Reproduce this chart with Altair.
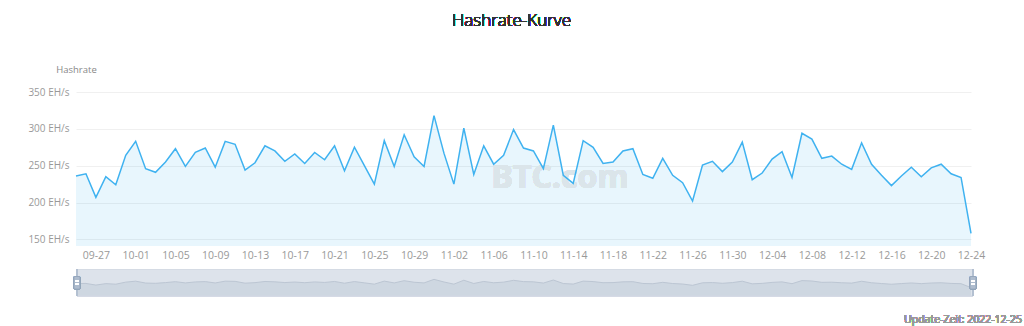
import altair as alt
import pandas as pd

# ---- data ----
dates = [d.strftime("%Y-%m-%d") for d in pd.date_range("2022-09-25", "2022-12-24", freq="D")]
hashrate = [
    236, 239, 207, 235, 224, 264,
    283, 246, 241, 255, 273, 249, 268, 274, 248, 283, 279, 244, 254, 277, 270, 256,
    266, 253, 268, 258, 277, 243, 275, 250, 225, 284, 249, 292, 262, 249, 318,
    267, 225, 301, 238, 277, 252, 264, 299, 274, 270, 246, 305, 237, 226, 284, 275,
    253, 255, 270, 273, 238, 233, 260, 237, 227, 202, 251, 256, 242, 255,
    282, 231, 240, 259, 269, 234, 294, 286, 260, 263, 252, 245, 281, 252, 237, 223,
    236, 248, 235, 247, 252, 239, 234, 158,
]
y_ticks = [150, 200, 250, 300, 350]
tick_dates = dates[2::4]
title_text = "Hashrate-Kurve"
y_name = "Hashrate"
footer_text = "Update-Zeit: 2022-12-25"
watermark = "BTC.com"

df = pd.DataFrame({"date": dates, "v": hashrate})

W, H = 895, 154
FONT = "Open Sans"
LINE = "#3fb2f0"


def dt(s):
    y, m, d = (int(p) for p in s.split("-"))
    return alt.DateTime(year=y, month=m, date=d, utc=True)


xscale = alt.Scale(type="utc", domain=[dt(dates[0]), dt(dates[-1])])
xaxis = alt.Axis(
    values=[dt(s) for s in tick_dates], format="%m-%d", title=None,
    domain=False, ticks=False, grid=False, labelColor="#999999",
    labelFont=FONT, labelFontSize=10.5, labelPadding=4, labelOverlap=False,
    labelFlush=False,
)
xenc = alt.X("date:T", scale=xscale, axis=xaxis)
yscale = alt.Scale(domain=[141, 350], nice=False, zero=False)
yenc = alt.Y(
    "v:Q",
    scale=yscale,
    axis=alt.Axis(
        values=y_ticks, labelExpr="datum.value + ' EH/s'", domain=False, ticks=False,
        gridColor="#f0f0f0", labelColor="#999999", labelFont=FONT, labelFontSize=10,
        labelPadding=7, title=y_name, titleAngle=0, titleX=0, titleY=-23,
        titleAlign="center", titleBaseline="middle", titleFont=FONT, titleFontSize=9.5,
        titleFontWeight="normal", titleColor="#888888",
    ),
)

base = alt.Chart(df)
area = base.mark_area(color=LINE, opacity=0.12).encode(x=xenc, y=yenc, y2=alt.datum(141))
wm = alt.Chart(df).mark_text(
    text=watermark, font=FONT, fontSize=32, fontWeight="bold", color="#dbe5ea"
).encode(x=alt.value(484), y=alt.value(86))
line = base.mark_line(color=LINE, strokeWidth=1.5).encode(x=xenc, y=yenc)
main = alt.layer(area, wm, line)

# slider (data zoom look-alike)
slider_bg = alt.Chart(df).mark_rect(fill="#dde3eb", stroke="#d5dbe4", strokeWidth=1).encode(
    x=alt.value(1), x2=alt.value(897), y=alt.value(177.5), y2=alt.value(203.7)
)
syenc = alt.Y("v:Q", scale=alt.Scale(domain=[0, 510], range=[203.7, 177.5], nice=False), axis=None)
slider_area = base.mark_area(color="#cbd3de", opacity=0.8).encode(x=xenc, y=syenc)
slider_line = base.mark_line(color="#bcc6d3", strokeWidth=1).encode(x=xenc, y=syenc)
slider = alt.layer(slider_area, slider_line)

handles = []
for hx in (1, 897):
    handles.append(alt.Chart(df).mark_rect(fill="#b3c0d1").encode(
        x=alt.value(hx - 1), x2=alt.value(hx + 1), y=alt.value(177.5), y2=alt.value(203.7)))
    handles.append(alt.Chart(df).mark_rect(fill="#aebcce", stroke="#93a4ba", strokeWidth=0.8, cornerRadius=1).encode(
        x=alt.value(hx - 3), x2=alt.value(hx + 3), y=alt.value(184.5), y2=alt.value(197)))
    for hy in (189, 192):
        handles.append(alt.Chart(df).mark_rule(color="#ffffff", strokeWidth=1).encode(
            x=alt.value(hx - 2), x2=alt.value(hx + 2), y=alt.value(hy)))

title = alt.Chart(df).mark_text(
    text=title_text, font=FONT, fontSize=17, fontWeight=300, color="#333333"
).encode(x=alt.value(435.5), y=alt.value(-71))
footer = alt.Chart(df).mark_text(
    text=footer_text, font=FONT, fontSize=10.5, color="#999999", align="right"
).encode(x=alt.value(946), y=alt.value(228))

chart = alt.layer(main, slider_bg, slider, *handles, title, footer).resolve_scale(
    y="independent"
).properties(
    width=W, height=H,
    autosize=alt.AutoSizeParams(type="none"),
    padding={"left": 76, "top": 92, "right": 53, "bottom": 80},
).configure_view(stroke=None)

chart.save("out.html", embed_options={"renderer": "svg", "actions": False})
